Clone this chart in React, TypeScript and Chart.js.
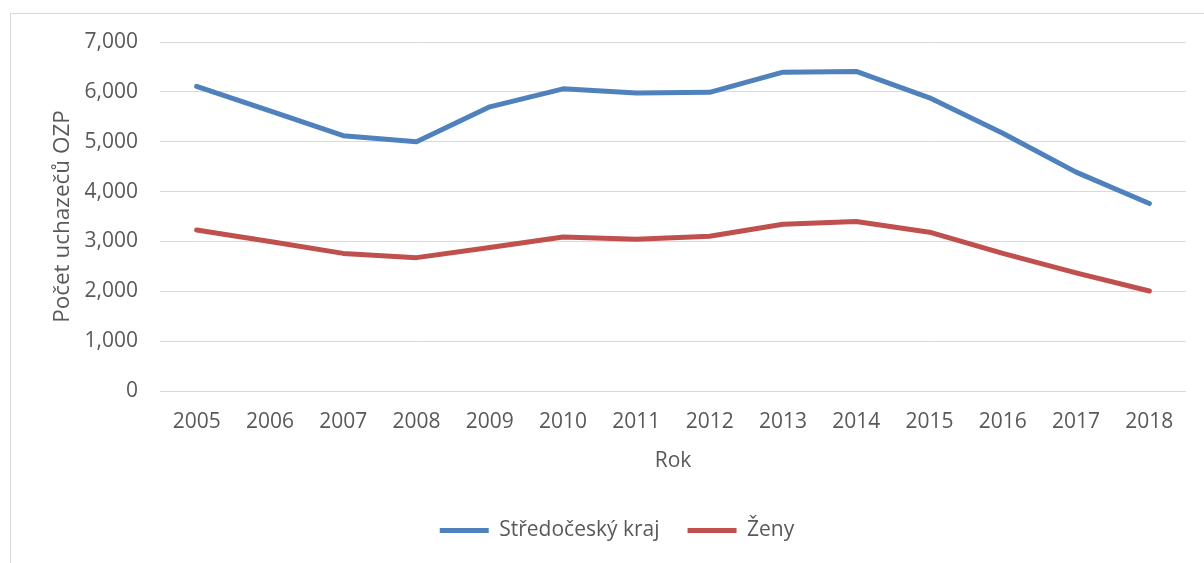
import React, { useEffect, useRef } from "react";
import { Chart, registerables } from "chart.js";

Chart.register(...registerables);

const years = ["2005", "2006", "2007", "2008", "2009", "2010", "2011", "2012", "2013", "2014", "2015", "2016", "2017", "2018"];
const stredocesky = [6110, 5620, 5120, 5000, 5700, 6060, 5975, 5990, 6395, 6410, 5880, 5170, 4390, 3760];
const zeny = [3230, 3000, 2760, 2675, 2880, 3090, 3045, 3105, 3345, 3400, 3185, 2760, 2370, 2005];

const FONT = "'Open Sans', 'Noto Sans', sans-serif";
const TEXT = "#595959";

export default function App() {
  const ref = useRef<HTMLCanvasElement | null>(null);

  useEffect(() => {
    if (!ref.current) return;
    const chart = new Chart(ref.current, {
      type: "line",
      data: {
        labels: years,
        datasets: [
          {
            label: "Středočeský kraj",
            data: stredocesky,
            borderColor: "#4F81BD",
            backgroundColor: "#4F81BD",
            borderWidth: 5,
            borderCapStyle: "round",
            borderJoinStyle: "round",
            pointRadius: 0,
            pointHoverRadius: 0,
            pointStyle: "line",
            tension: 0,
          },
          {
            label: "Ženy",
            data: zeny,
            borderColor: "#C0504D",
            backgroundColor: "#C0504D",
            borderWidth: 5,
            borderCapStyle: "round",
            borderJoinStyle: "round",
            pointRadius: 0,
            pointHoverRadius: 0,
            pointStyle: "line",
            tension: 0,
          },
        ],
      },
      options: {
        animation: false,
        responsive: false,
        maintainAspectRatio: false,
        layout: { padding: { top: 42, left: 48, right: 18, bottom: 12 } },
        plugins: {
          tooltip: { enabled: false },
          legend: {
            position: "bottom",
            labels: {
              usePointStyle: true,
              pointStyleWidth: 49,
              boxHeight: 5,
              padding: 28,
              color: TEXT,
              font: { family: FONT, size: 21 },
            },
          },
        },
        scales: {
          x: {
            offset: true,
            grid: { display: false, drawTicks: false, offset: true },
            border: { display: false },
            ticks: {
              color: TEXT,
              font: { family: FONT, size: 21 },
              padding: 18,
              maxRotation: 0,
              autoSkip: false,
            },
            title: {
              display: true,
              text: "Rok",
              color: TEXT,
              font: { family: FONT, size: 21 },
              padding: { top: 0, bottom: 18 },
            },
            afterFit: (s: any) => {
              s.height = 101;
            },
          },
          y: {
            min: 0,
            max: 7000,
            grid: { color: "#D9D9D9", lineWidth: 1, drawTicks: false },
            border: { display: false },
            ticks: {
              stepSize: 1000,
              color: TEXT,
              font: { family: FONT, size: 21 },
              padding: 22,
              callback: (v: any) => Number(v).toLocaleString("en-US"),
            },
            title: {
              display: true,
              text: "Počet uchazečů OZP",
              color: TEXT,
              font: { family: FONT, size: 22.5 },
              padding: { top: 1, bottom: 0 },
            },
            afterFit: (s: any) => {
              s.width = 112;
            },
          },
        },
      },
    });
    return () => chart.destroy();
  }, []);

  return (
    <div style={{ position: "fixed", left: 0, top: 0, width: 1204, height: 563, background: "#fff" }}>
      <div
        style={{
          position: "absolute",
          left: 10,
          top: 13,
          width: 1200,
          height: 560,
          borderLeft: "1px solid #D9D9D9",
          borderTop: "1px solid #D9D9D9",
        }}
      />
      <canvas ref={ref} width={1204} height={563} style={{ position: "absolute", left: 0, top: 0 }} />
    </div>
  );
}
